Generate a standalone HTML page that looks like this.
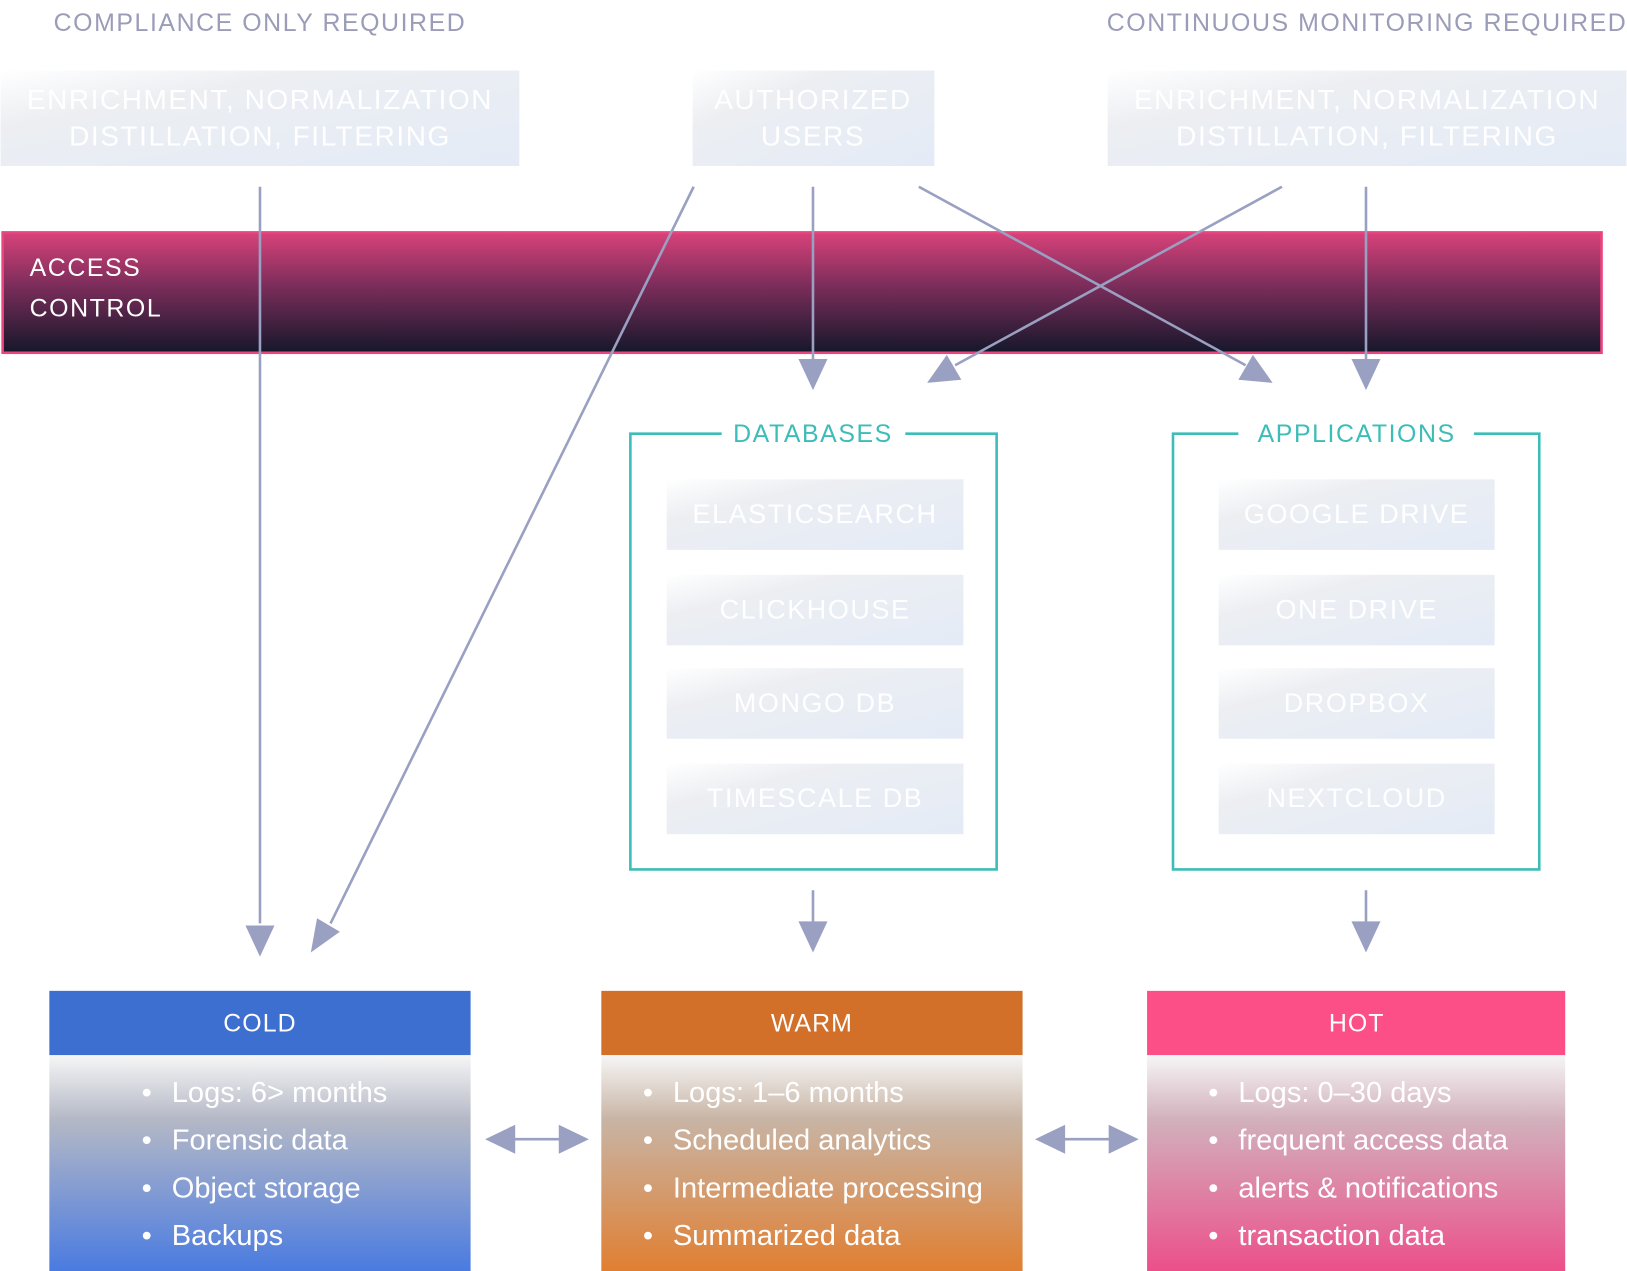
<!DOCTYPE html>
<html><head><meta charset="utf-8"><style>
html,body{margin:0;padding:0;background:#fff;width:1627px;height:1271px;overflow:hidden}
svg text{font-family:"Liberation Sans",sans-serif}
</style></head><body>
<svg width="1627" height="1271" viewBox="0 0 1567 1225" xmlns="http://www.w3.org/2000/svg">
<defs>
<linearGradient id="lb" x1="0" y1="0" x2="1" y2="1"><stop offset="0" stop-color="#ffffff"/><stop offset="0.3" stop-color="#eceef2"/><stop offset="1" stop-color="#e4ebf7"/></linearGradient>
<linearGradient id="ac" x1="0" y1="0" x2="0" y2="1"><stop offset="0" stop-color="#d8427a"/><stop offset="0.45" stop-color="#7a2d5a"/><stop offset="1" stop-color="#15172a"/></linearGradient>
<linearGradient id="cold" x1="0" y1="0" x2="0" y2="1"><stop offset="0" stop-color="#f6f6f6"/><stop offset="0.3" stop-color="#b4b8c6"/><stop offset="1" stop-color="#4a7be0"/></linearGradient>
<linearGradient id="warm" x1="0" y1="0" x2="0" y2="1"><stop offset="0" stop-color="#f6f6f6"/><stop offset="0.3" stop-color="#c8b4a4"/><stop offset="1" stop-color="#e07f32"/></linearGradient>
<linearGradient id="hot" x1="0" y1="0" x2="0" y2="1"><stop offset="0" stop-color="#f6f6f6"/><stop offset="0.3" stop-color="#d2b0bc"/><stop offset="1" stop-color="#ec4f8a"/></linearGradient>
</defs>
<g font-size="24" fill="#9a9cb8" text-anchor="middle" letter-spacing="1.5">
<text x="250" y="30">COMPLIANCE ONLY REQUIRED</text>
<text x="1317" y="30">CONTINUOUS MONITORING REQUIRED</text>
</g>
<rect x="0" y="68" width="500" height="92" fill="url(#lb)"/>
<rect x="667" y="68" width="233" height="92" fill="url(#lb)"/>
<rect x="1067" y="68" width="500" height="92" fill="url(#lb)"/>
<g font-size="27" fill="#fff" text-anchor="middle" letter-spacing="1.5">
<text x="250" y="105">ENRICHMENT, NORMALIZATION</text><text x="250" y="140">DISTILLATION, FILTERING</text>
<text x="783" y="105">AUTHORIZED</text><text x="783" y="140">USERS</text>
<text x="1317" y="105">ENRICHMENT, NORMALIZATION</text><text x="1317" y="140">DISTILLATION, FILTERING</text>
</g>
<rect x="2" y="224" width="1541" height="116" fill="url(#ac)" stroke="#e9457e" stroke-width="2.5"/>
<g font-size="24" fill="#fff" letter-spacing="1.5"><text x="28" y="266">ACCESS</text><text x="28" y="305">CONTROL</text></g>
<g stroke="#9aa0c2" stroke-width="2.5" fill="#9aa0c2">
<line x1="250" y1="180" x2="250" y2="890"/><path d="M236,892 L264,892 L250,922 z" stroke="none"/>
<line x1="668" y1="180" x2="318" y2="890"/><path d="M299,918 L305,885 L327,898 z" stroke="none"/>
<line x1="783" y1="180" x2="783" y2="346"/><path d="M769,346 L797,346 L783,376 z" stroke="none"/>
<line x1="885" y1="180" x2="1200" y2="352"/><path d="M1226,369 L1193,366 L1207,342 z" stroke="none"/>
<line x1="1235" y1="180" x2="920" y2="352"/><path d="M893,369 L912,342 L926,366 z" stroke="none"/>
<line x1="1316" y1="180" x2="1316" y2="346"/><path d="M1302,346 L1330,346 L1316,376 z" stroke="none"/>
<line x1="783" y1="858" x2="783" y2="890"/><path d="M769,888 L797,888 L783,918 z" stroke="none"/>
<line x1="1316" y1="858" x2="1316" y2="890"/><path d="M1302,888 L1330,888 L1316,918 z" stroke="none"/>
<line x1="490" y1="1098" x2="545" y2="1098"/><path d="M467,1098 L496,1084 L496,1112 z M567,1098 L538,1084 L538,1112 z" stroke="none"/>
<line x1="1020" y1="1098" x2="1075" y2="1098"/><path d="M997,1098 L1026,1084 L1026,1112 z M1097,1098 L1068,1084 L1068,1112 z" stroke="none"/>
</g>
<g fill="none" stroke="#3dbdb8" stroke-width="2.5">
<path d="M695,418 L607,418 L607,838 L960,838 L960,418 L872,418"/>
<path d="M1193,418 L1130,418 L1130,838 L1483,838 L1483,418 L1420,418"/>
</g>
<g font-size="24" fill="#3dbdb8" text-anchor="middle" letter-spacing="1.5">
<text x="783" y="426">DATABASES</text><text x="1307" y="426">APPLICATIONS</text>
</g>
<g fill="url(#lb)">
<rect x="642" y="462" width="286" height="68"/><rect x="642" y="554" width="286" height="68"/><rect x="642" y="644" width="286" height="68"/><rect x="642" y="736" width="286" height="68"/>
<rect x="1174" y="462" width="266" height="68"/><rect x="1174" y="554" width="266" height="68"/><rect x="1174" y="644" width="266" height="68"/><rect x="1174" y="736" width="266" height="68"/>
</g>
<g font-size="26" fill="#fff" text-anchor="middle" letter-spacing="1.5">
<text x="785" y="504">ELASTICSEARCH</text><text x="785" y="596">CLICKHOUSE</text><text x="785" y="686">MONGO DB</text><text x="785" y="778">TIMESCALE DB</text>
<text x="1307" y="504">GOOGLE DRIVE</text><text x="1307" y="596">ONE DRIVE</text><text x="1307" y="686">DROPBOX</text><text x="1307" y="778">NEXTCLOUD</text>
</g>
<rect x="47" y="955" width="406" height="62" fill="#3d6fd0"/>
<rect x="47" y="1017" width="406" height="208" fill="url(#cold)"/>
<rect x="579" y="955" width="406" height="62" fill="#d2702a"/>
<rect x="579" y="1017" width="406" height="208" fill="url(#warm)"/>
<rect x="1105" y="955" width="403" height="62" fill="#fc4f88"/>
<rect x="1105" y="1017" width="403" height="208" fill="url(#hot)"/>
<g font-size="24" fill="#fff" text-anchor="middle" letter-spacing="1">
<text x="250" y="994">COLD</text><text x="782" y="994">WARM</text><text x="1307" y="994">HOT</text>
</g>
<g font-size="28" fill="#fff">
<text x="136" y="1062">•</text><text x="165" y="1062">Logs: 6&gt; months</text>
<text x="136" y="1108">•</text><text x="165" y="1108">Forensic data</text>
<text x="136" y="1154">•</text><text x="165" y="1154">Object storage</text>
<text x="136" y="1200">•</text><text x="165" y="1200">Backups</text>
<text x="619" y="1062">•</text><text x="648" y="1062">Logs: 1–6 months</text>
<text x="619" y="1108">•</text><text x="648" y="1108">Scheduled analytics</text>
<text x="619" y="1154">•</text><text x="648" y="1154">Intermediate processing</text>
<text x="619" y="1200">•</text><text x="648" y="1200">Summarized data</text>
<text x="1164" y="1062">•</text><text x="1193" y="1062">Logs: 0–30 days</text>
<text x="1164" y="1108">•</text><text x="1193" y="1108">frequent access data</text>
<text x="1164" y="1154">•</text><text x="1193" y="1154">alerts &amp; notifications</text>
<text x="1164" y="1200">•</text><text x="1193" y="1200">transaction data</text>
</g>
</svg>
</body></html>
